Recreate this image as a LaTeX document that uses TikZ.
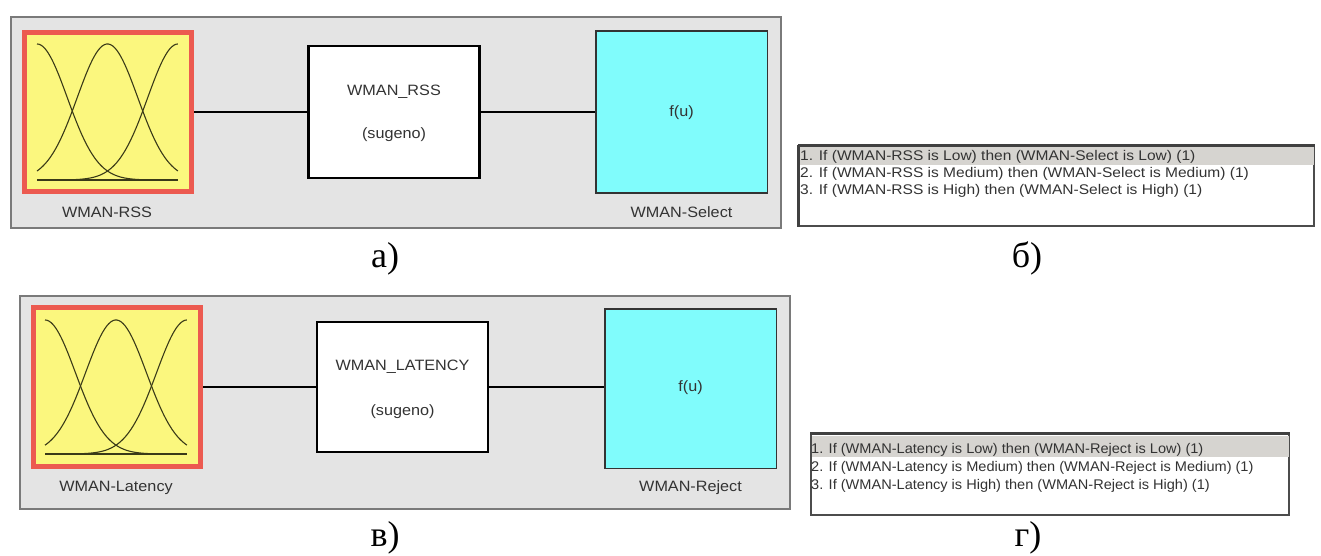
\documentclass[tikz,border=0pt]{standalone}
\usepackage{fontspec}
\setmainfont{Liberation Serif}
\newfontfamily\uifont[FakeStretch=1.08]{Liberation Sans}
\newfontfamily\rulefonta[FakeStretch=1.11]{Liberation Sans}
\newfontfamily\rulefontb[FakeStretch=1.04]{Liberation Sans}
\definecolor{panelgray}{HTML}{E4E4E4}
\definecolor{paneledge}{HTML}{7A7A7A}
\definecolor{mfyellow}{HTML}{FBF77E}
\definecolor{mfred}{HTML}{EC5A50}
\definecolor{outcyan}{HTML}{80FCFC}
\definecolor{uitext}{HTML}{333333}
\definecolor{rowgray}{HTML}{D6D4D0}
\definecolor{curveink}{HTML}{3A3A18}
\tikzset{
  panel/.style={draw=paneledge, fill=panelgray, line width=1.6pt, inner sep=0pt},
  inputbox/.style={draw=mfred, fill=mfyellow, line width=5pt, inner sep=0pt},
  enginebox/.style={draw=black, fill=white, line width=2.4pt, inner sep=0pt},
  outputbox/.style={draw=black!80, fill=outcyan, line width=1.5pt, inner sep=0pt},
  uilabel/.style={font=\uifont\fontsize{15}{17}\selectfont, text=uitext, inner sep=0pt},
  rulebox/.style={draw=black!70, fill=white, line width=1.2pt, inner sep=0pt},
  ruleline/.style={anchor=west, text=uitext, inner sep=0pt},
  caption/.style={font=\fontsize{36}{40}\selectfont, inner sep=0pt},
  wire/.style={draw=black, line width=1.3pt},
  mfcurve/.style={draw=curveink, line width=1.1pt, line join=round}
}
% three Gaussian membership functions over [x0, x0+w], baseline y0, height h
\newcommand{\mfplot}[4]{%
  \draw[mfcurve] plot[domain=0:1, samples=70, smooth]
    ({#1+\x*#3},{#2-#4*exp(-(\x)^2/0.092)});
  \draw[mfcurve] plot[domain=0:1, samples=70, smooth]
    ({#1+\x*#3},{#2-#4*exp(-(\x-0.5)^2/0.092)});
  \draw[mfcurve] plot[domain=0:1, samples=70, smooth]
    ({#1+\x*#3},{#2-#4*exp(-(\x-1)^2/0.092)});
  \draw[mfcurve, line width=1.4pt] (#1,#2) -- ({#1+#3},#2);
}
\begin{document}
\begin{tikzpicture}[x=1pt,y=-1pt]
\useasboundingbox[fill=white] (0,0) rectangle (1321,556);

% ---------- first system: WMAN-RSS ----------
\node[panel, minimum width=770pt, minimum height=211pt] (p1) at (396,122.5) {};
\node[inputbox, minimum width=167pt, minimum height=159.5pt] (in1) at (108,112) {};
\mfplot{37}{180}{141}{136}
\node[enginebox, minimum width=171pt, minimum height=131.5pt] (eng1) at (394,112) {};
\node[outputbox, minimum width=171.5pt, minimum height=161.5pt] (out1) at (681.5,112) {};
\draw[wire] (in1.east) -- (in1.east -| eng1.west);
\draw[wire] (eng1.east) -- (eng1.east -| out1.west);
\node[uilabel] (eng1name) at (394,92) {WMAN\_RSS};
\node[uilabel] (eng1type) at (394,135) {(sugeno)};
\node[uilabel] (out1f) at (681.5,113) {f(u)};
\node[uilabel] (in1lab) at (107,212) {WMAN-RSS};
\node[uilabel] (out1lab) at (681.5,212) {WMAN-Select};
\node[caption] (capa) at (385,259) {а)};

% rule list 1
\node[rulebox, minimum width=515pt, minimum height=80pt] (r1) at (1056.5,186) {};
\fill[rowgray] (799.5,147.5) rectangle (1313.5,165.5);
\draw[black!75, line width=3pt] (r1.north west) -- (r1.north east);
\draw[black!75, line width=2.5pt] (r1.north west) -- (r1.south west);
\node[ruleline, font=\rulefonta\fontsize{14}{17}\selectfont] (r1a) at (800,157) {1. If (WMAN-RSS is Low) then (WMAN-Select is Low) (1)};
\node[ruleline, font=\rulefonta\fontsize{14}{17}\selectfont] (r1b) at (800,174) {2. If (WMAN-RSS is Medium) then (WMAN-Select is Medium) (1)};
\node[ruleline, font=\rulefonta\fontsize{14}{17}\selectfont] (r1c) at (800,191) {3. If (WMAN-RSS is High) then (WMAN-Select is High) (1)};
\node[caption] (capb) at (1027,258) {б)};

% ---------- second system: WMAN-Latency ----------
\node[panel, minimum width=770pt, minimum height=213pt] (p2) at (405,402.5) {};
\node[inputbox, minimum width=167pt, minimum height=158.5pt] (in2) at (117,387) {};
\mfplot{45}{454}{142}{134}
\node[enginebox, minimum width=170.5pt, minimum height=129.5pt] (eng2) at (402.5,387) {};
\node[outputbox, minimum width=171.5pt, minimum height=159.5pt] (out2) at (690.5,388.5) {};
\draw[wire] (in2.east) -- (in2.east -| eng2.west);
\draw[wire] (eng2.east) -- (eng2.east -| out2.west);
\node[uilabel] (eng2name) at (402.5,367) {WMAN\_LATENCY};
\node[uilabel] (eng2type) at (402.5,412) {(sugeno)};
\node[uilabel] (out2f) at (690.5,388) {f(u)};
\node[uilabel] (in2lab) at (116,488) {WMAN-Latency};
\node[uilabel] (out2lab) at (690.5,488) {WMAN-Reject};
\node[caption] (capv) at (385,538) {в)};

% rule list 2
\node[rulebox, minimum width=478pt, minimum height=81pt] (r2) at (1050,474.5) {};
\fill[rowgray] (811.5,435.5) rectangle (1288.5,457);
\draw[black!75, line width=2.5pt] (r2.north west) -- (r2.north east);
\node[ruleline, font=\rulefontb\fontsize{14}{17}\selectfont] (r2a) at (811,450) {1. If (WMAN-Latency is Low) then (WMAN-Reject is Low) (1)};
\node[ruleline, font=\rulefontb\fontsize{14}{17}\selectfont] (r2b) at (811,468) {2. If (WMAN-Latency is Medium) then (WMAN-Reject is Medium) (1)};
\node[ruleline, font=\rulefontb\fontsize{14}{17}\selectfont] (r2c) at (811,486) {3. If (WMAN-Latency is High) then (WMAN-Reject is High) (1)};
\node[caption] (capg) at (1028,538) {г)};
\end{tikzpicture}
\end{document}
